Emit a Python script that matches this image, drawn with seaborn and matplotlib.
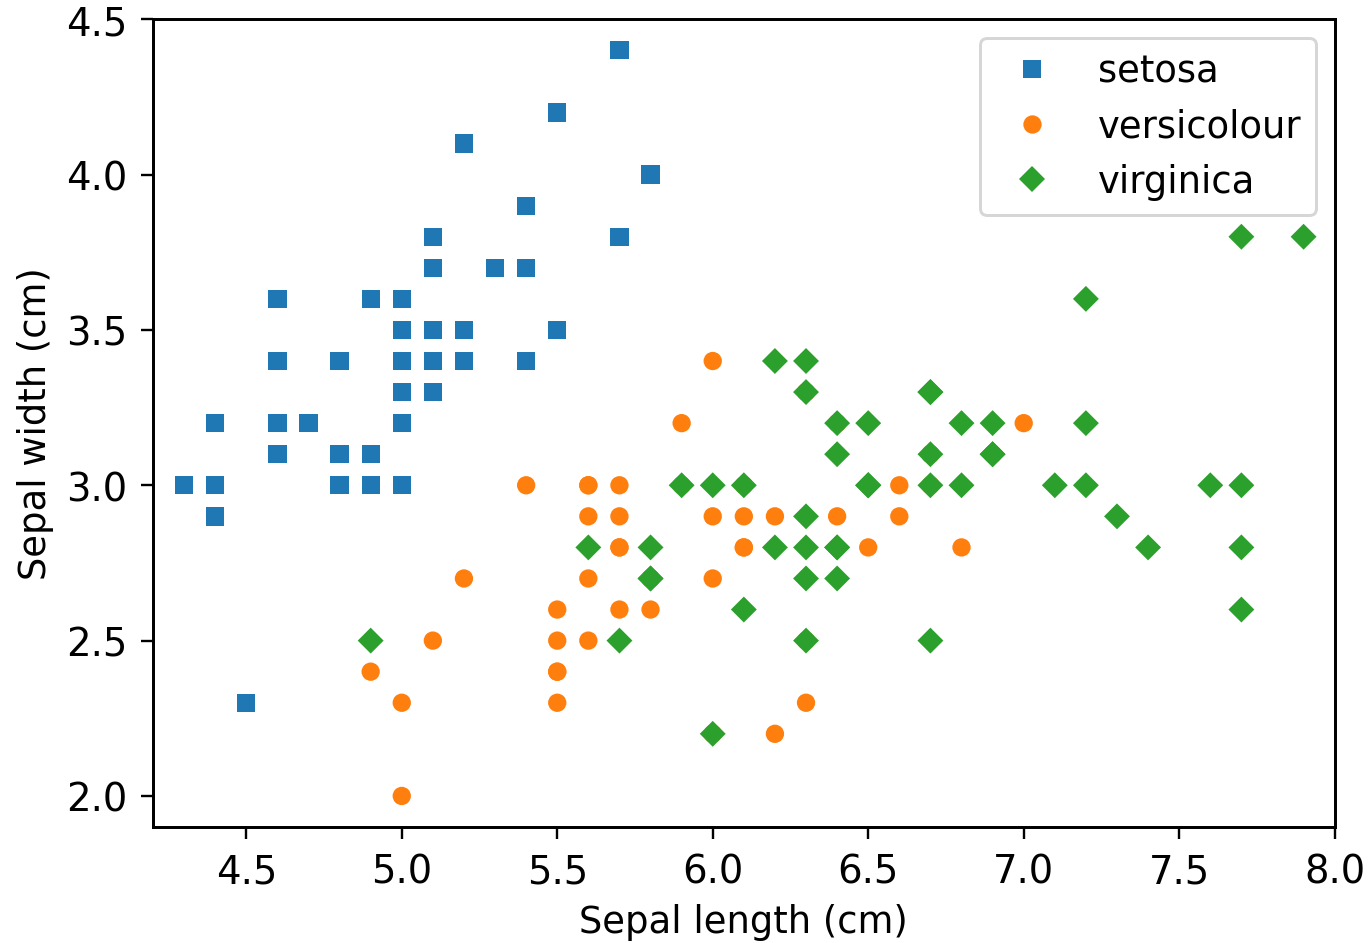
import pandas as pd
import matplotlib
matplotlib.use("Agg")
import matplotlib.pyplot as plt
import seaborn as sns

setosa_length = [5.1, 4.9, 4.7, 4.6, 5.0, 5.4, 4.6, 5.0, 4.4, 4.9, 5.4, 4.8, 4.8, 4.3, 5.8, 5.7, 5.4,
                 5.1, 5.7, 5.1, 5.4, 5.1, 4.6, 5.1, 4.8, 5.0, 5.0, 5.2, 5.2, 4.7, 4.8, 5.4, 5.2, 5.5,
                 4.9, 5.0, 5.5, 4.9, 4.4, 5.1, 5.0, 4.5, 4.4, 5.0, 5.1, 4.8, 5.1, 4.6, 5.3, 5.0]
setosa_width = [3.5, 3.0, 3.2, 3.1, 3.6, 3.9, 3.4, 3.4, 2.9, 3.1, 3.7, 3.4, 3.0, 3.0, 4.0, 4.4, 3.9,
                3.5, 3.8, 3.8, 3.4, 3.7, 3.6, 3.3, 3.4, 3.0, 3.4, 3.5, 3.4, 3.2, 3.1, 3.4, 4.1, 4.2,
                3.1, 3.2, 3.5, 3.6, 3.0, 3.4, 3.5, 2.3, 3.2, 3.5, 3.8, 3.0, 3.8, 3.2, 3.7, 3.3]
versicolour_length = [7.0, 6.4, 6.9, 5.5, 6.5, 5.7, 6.3, 4.9, 6.6, 5.2, 5.0, 5.9, 6.0, 6.1, 5.6, 6.7,
                      5.6, 5.8, 6.2, 5.6, 5.9, 6.1, 6.3, 6.1, 6.4, 6.6, 6.8, 6.7, 6.0, 5.7, 5.5, 5.5,
                      5.8, 6.0, 5.4, 6.0, 6.7, 6.3, 5.6, 5.5, 5.5, 6.1, 5.8, 5.0, 5.6, 5.7, 5.7, 6.2,
                      5.1, 5.7]
versicolour_width = [3.2, 3.2, 3.1, 2.3, 2.8, 2.8, 3.3, 2.4, 2.9, 2.7, 2.0, 3.0, 2.2, 2.9, 2.9, 3.1,
                     3.0, 2.7, 2.2, 2.5, 3.2, 2.8, 2.5, 2.8, 2.9, 3.0, 2.8, 3.0, 2.9, 2.6, 2.4, 2.4,
                     2.7, 2.7, 3.0, 3.4, 3.1, 2.3, 3.0, 2.5, 2.6, 3.0, 2.6, 2.3, 2.7, 3.0, 2.9, 2.9,
                     2.5, 2.8]
virginica_length = [6.3, 5.8, 7.1, 6.3, 6.5, 7.6, 4.9, 7.3, 6.7, 7.2, 6.5, 6.4, 6.8, 5.7, 5.8, 6.4,
                    6.5, 7.7, 7.7, 6.0, 6.9, 5.6, 7.7, 6.3, 6.7, 7.2, 6.2, 6.1, 6.4, 7.2, 7.4, 7.9,
                    6.4, 6.3, 6.1, 7.7, 6.3, 6.4, 6.0, 6.9, 6.7, 6.9, 5.8, 6.8, 6.7, 6.7, 6.3, 6.5,
                    6.2, 5.9]
virginica_width = [3.3, 2.7, 3.0, 2.9, 3.0, 3.0, 2.5, 2.9, 2.5, 3.6, 3.2, 2.7, 3.0, 2.5, 2.8, 3.2,
                   3.0, 3.8, 2.6, 2.2, 3.2, 2.8, 2.8, 2.7, 3.3, 3.2, 2.8, 3.0, 2.8, 3.0, 2.8, 3.8,
                   2.8, 2.8, 2.6, 3.0, 3.4, 3.1, 3.0, 3.1, 3.1, 3.1, 2.7, 3.2, 3.3, 3.0, 2.5, 3.0,
                   3.4, 3.0]

species = ["setosa", "versicolour", "virginica"]

df = pd.concat([
    pd.DataFrame({"length": setosa_length, "width": setosa_width, "species": "setosa"}),
    pd.DataFrame({"length": versicolour_length, "width": versicolour_width, "species": "versicolour"}),
    pd.DataFrame({"length": virginica_length, "width": virginica_width, "species": "virginica"}),
], ignore_index=True)

plt.rcParams["font.size"] = 12.4
plt.rcParams["axes.linewidth"] = 1.0
plt.rcParams["xtick.labelsize"] = 13
plt.rcParams["ytick.labelsize"] = 13
plt.rcParams["xtick.major.size"] = 4.2
plt.rcParams["ytick.major.size"] = 4.2
plt.rcParams["xtick.major.pad"] = 4.5
plt.rcParams["ytick.major.pad"] = 4.5

fig = plt.figure(figsize=(6.4, 4.41), dpi=214)
ax = fig.add_axes([0.1117, 0.1229, 0.8628, 0.8559])

palette = {"setosa": "#1f77b4", "versicolour": "#ff7f0e", "virginica": "#2ca02c"}
markers = {"setosa": "s", "versicolour": "o", "virginica": "D"}
sns.scatterplot(data=df, x="length", y="width", hue="species", style="species",
                hue_order=species, style_order=species, palette=palette, markers=markers,
                s=38, linewidth=0, ax=ax)

ax.set_xlim(4.2, 8.0)
ax.set_ylim(1.9, 4.5)
ax.set_xlabel("Sepal length (cm)")
ax.set_ylabel("Sepal width (cm)")

handles, labels = ax.get_legend_handles_labels()
pairs = [(h, l) for h, l in zip(handles, labels) if l in species]
ax.legend([p[0] for p in pairs], [p[1] for p in pairs], loc="upper right")

fig.savefig("out.png", dpi=214)
